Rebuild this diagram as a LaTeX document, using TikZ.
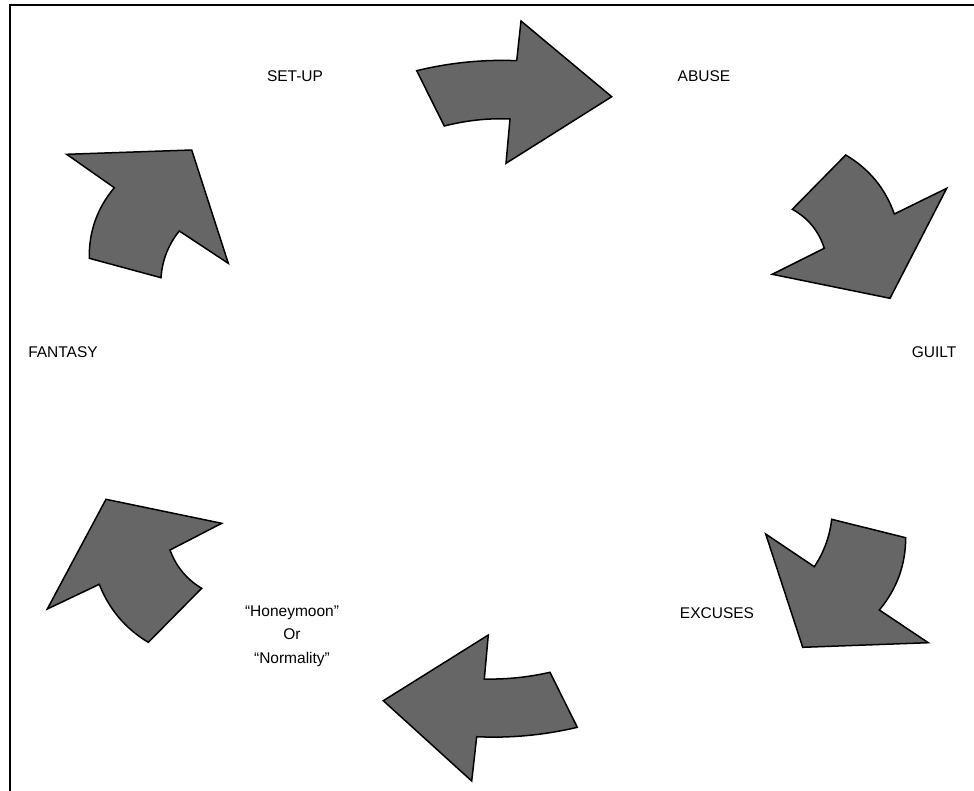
\documentclass[tikz,border=0pt]{standalone}
\usepackage{fontspec}
\setmainfont{Liberation Sans}
\definecolor{arrowgray}{RGB}{102,102,102}
\tikzset{
  bigarrow/.style={fill=arrowgray, draw=black, line width=1.5pt, line join=miter},
  lbl/.style={font=\fontsize{15.5}{23.5}\selectfont, inner sep=0pt, align=center},
  frame/.style={draw=black, line width=2pt}
}
\begin{document}
\begin{tikzpicture}[x=1pt,y=-1pt]
\useasboundingbox (0,0) rectangle (974,790);
% frame
\draw[frame] (10,791) -- (10,5) -- (975,5);

% arrow 1 (top, right)
\draw[bigarrow] (416.7,70.7) .. controls (449.5,62.7) and (482.9,59.3) .. (516.7,60.7)
  -- (521,21) -- (611.7,96.7) -- (506,163.3) -- (510,119)
  .. controls (488.1,118) and (466.2,120.4) .. (444.3,126) -- cycle;

% arrow 2 (top right, down-right)
\draw[bigarrow] (845.7,155) .. controls (869.1,168.8) and (885.3,188.4) .. (894.3,214)
  -- (946.7,188.3) -- (890,298.3) -- (772.3,274.3) -- (824.3,248.3)
  .. controls (818.8,231.1) and (808.2,218.1) .. (792.3,209.3) -- cycle;

% arrow 3 (bottom right, down-left)
\draw[bigarrow] (831.7,519.3) -- (905.7,537.7)
  .. controls (905.6,565) and (896.8,589.1) .. (879.3,610)
  -- (928.3,642.7) -- (802.7,647.3) -- (765.7,534) -- (814.3,566.7)
  .. controls (823.9,552.3) and (829.7,536.5) .. (831.7,519.3) -- cycle;

% arrow 4 (bottom, left)
\draw[bigarrow] (488.3,635) -- (484.3,679)
  .. controls (506.5,679.5) and (528.4,677.2) .. (550,672.3)
  -- (577.3,727.3)
  .. controls (544.2,735.1) and (510.6,738.3) .. (476.7,736.7)
  -- (471.7,781) -- (383.3,700.7) -- cycle;

% arrow 5 (bottom left, up-left)
\draw[bigarrow] (106,499.3) -- (221.7,523.3) -- (170,550)
  .. controls (176.1,566.6) and (186.6,579.3) .. (201.7,588.3)
  -- (148.3,642.3)
  .. controls (125.4,628.6) and (109,609.2) .. (99.3,584.3)
  -- (47.3,609) -- cycle;

% arrow 6 (top left, up-right)
\draw[bigarrow] (66.7,154.3) -- (191.7,150) -- (228.3,263.3) -- (179.3,231)
  .. controls (168.3,244.7) and (162.2,260.2) .. (161,277.7)
  -- (89.3,258.3)
  .. controls (88.8,231.7) and (97.2,208.1) .. (114.3,187.7) -- cycle;

% labels
\node[lbl] (setup) at (295,76) {SET-UP};
\node[lbl] (abuse) at (704,76) {ABUSE};
\node[lbl] (guilt) at (934,352) {GUILT};
\node[lbl] (fantasy) at (63,352) {FANTASY};
\node[lbl] (excuses) at (717,613) {EXCUSES};
\node[lbl] (honey) at (292,636) {“Honeymoon”\\Or\\“Normality”};
\end{tikzpicture}
\end{document}
